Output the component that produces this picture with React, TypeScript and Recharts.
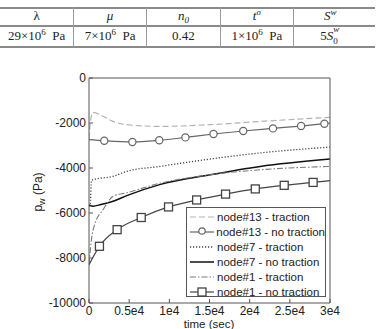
import React from 'react';
import { LineChart, Line, XAxis, YAxis } from 'recharts';

// time (sec) / p_w (Pa)
const n13TracT = [0, 150, 500, 1750, 3000, 4700, 8800, 15100, 21300, 30000];
const n13TracV = [-2700, -2000, -1530, -1700, -1930, -2075, -2150, -2075, -1930, -1750];

const n13NoT = [0, 1900, 5400, 8750, 12000, 15500, 19200, 22900, 26400, 29300, 30000];
const n13NoV = [-2740, -2790, -2845, -2770, -2640, -2490, -2355, -2240, -2135, -2030, -2000];

const n7TracT = [0, 150, 300, 500, 3000, 4700, 8800, 15100, 21300, 30000];
const n7TracV = [-5700, -5650, -4550, -4520, -4370, -4150, -3930, -3600, -3330, -3070];

const n7NoT = [0, 500, 1500, 3000, 4700, 8800, 15100, 21300, 30000];
const n7NoV = [-5640, -5700, -5620, -5480, -5230, -4740, -4300, -3930, -3600];

const n1TracT = [0, 300, 700, 1750, 3000, 4700, 8800, 15100, 21300, 30000];
const n1TracV = [-8300, -7190, -6520, -5850, -5260, -5100, -4680, -4300, -4080, -3930];

const n1NoT = [0, 1300, 3500, 6500, 9900, 13400, 17000, 20700, 24300, 27900, 30000];
const n1NoV = [-8300, -7480, -6740, -6200, -5730, -5420, -5160, -4930, -4770, -4640, -4560];

const xTicks = [0, 5000, 10000, 15000, 20000, 25000, 30000];
const xTickLabels = ['0', '0.5e4', '1e4', '1.5e4', '2e4', '2.5e4', '3e4'];
const yTicks = [-10000, -8000, -6000, -4000, -2000, 0];

const legendNames = [
  'node#13 - traction',
  'node#13 - no traction',
  'node#7 - traction',
  'node#7 - no traction',
  'node#1 - traction',
  'node#1 - no traction',
];

const zip = (t: number[], v: number[]) => t.map((x, i) => ({ t: x, v: v[i] }));

const styles = [
  { stroke: '#b3b3b3', dash: '6 3', width: 1.2, marker: '' },
  { stroke: '#666', dash: undefined, width: 1.2, marker: 'circle' },
  { stroke: '#444', dash: '1.2 1.8', width: 1.3, marker: '' },
  { stroke: '#111', dash: undefined, width: 1.5, marker: '' },
  { stroke: '#7a7a7a', dash: '6 2 1.5 2', width: 1.1, marker: '' },
  { stroke: '#444', dash: undefined, width: 1.2, marker: 'square' },
];

const makeDot = (kind: string, color: string, last: number) => (p: any) => {
  const { cx, cy, index, key } = p;
  if (index === 0 || index === last || cx == null) return <g key={key} />;
  if (kind === 'circle')
    return <circle key={key} cx={cx} cy={cy} r={3.6} fill="white" stroke={color} strokeWidth={1.2} />;
  return <rect key={key} x={cx - 4} y={cy - 4} width={8} height={8} fill="white" stroke={color} strokeWidth={1.3} />;
};

const font = '"Liberation Sans", Arial, sans-serif';
const tickStyle = { fontSize: 12, fill: '#222', fontFamily: font };

const Sample = ({ s }: { s: (typeof styles)[number] }) => (
  <svg width={26} height={14} style={{ display: 'block' }}>
    <line x1={1} x2={25} y1={7} y2={7} stroke={s.stroke} strokeWidth={s.width} strokeDasharray={s.dash} />
    {s.marker === 'circle' && <circle cx={13} cy={6} r={3.2} fill="white" stroke={s.stroke} strokeWidth={1.2} />}
    {s.marker === 'square' && <rect x={9} y={3} width={8} height={8} fill="white" stroke={s.stroke} strokeWidth={1.3} />}
  </svg>
);

const cell = (left: number, top: number, content: React.ReactNode) => (
  <div
    style={{
      position: 'absolute',
      left,
      top,
      width: 73.4,
      height: 18,
      textAlign: 'center',
      lineHeight: '18px',
      fontSize: 13,
      fontFamily: '"Liberation Serif", "Times New Roman", serif',
      color: '#222',
      whiteSpace: 'nowrap',
    }}
  >
    {content}
  </div>
);

const Table = () => {
  const hLines = [7, 25, 46];
  const vLines = [73, 146, 220, 293];
  const sup = (s: string) => <sup style={{ fontSize: 9, verticalAlign: 5, lineHeight: 0 }}>{s}</sup>;
  const sub = (s: string) => <sub style={{ fontSize: 9, verticalAlign: -3, lineHeight: 0 }}>{s}</sub>;
  return (
    <>
      {hLines.map((y) => (
        <div key={y} style={{ position: 'absolute', left: 0, top: y, width: 375, height: 1.5, background: '#8a8a8a' }} />
      ))}
      {vLines.map((x) => (
        <div key={x} style={{ position: 'absolute', left: x, top: 7, width: 1, height: 40, background: '#9a9a9a' }} />
      ))}
      {cell(0, 7, 'λ')}
      {cell(73.4, 7, <i>μ</i>)}
      {cell(146.8, 7, <i>n{sub('0')}</i>)}
      {cell(220.2, 7, <i>t{sup('σ')}</i>)}
      {cell(293.6, 7, <i>S{sup('w')}</i>)}
      {cell(0, 27, <>29×10{sup('6')}&nbsp; Pa</>)}
      {cell(73.4, 27, <>7×10{sup('6')}&nbsp; Pa</>)}
      {cell(146.8, 27, '0.42')}
      {cell(220.2, 27, <>1×10{sup('6')}&nbsp; Pa</>)}
      {cell(
        293.6,
        27,
        <>
          5<i>S</i>
          <span style={{ display: 'inline-block', position: 'relative', width: 7, height: 0 }}>
            <i style={{ position: 'absolute', left: 0, top: -16, fontSize: 9, lineHeight: '10px' }}>w</i>
            <span style={{ position: 'absolute', left: 0, top: -4, fontSize: 9, lineHeight: '10px' }}>0</span>
          </span>
        </>
      )}
    </>
  );
};

const series = [
  zip(n13TracT, n13TracV),
  zip(n13NoT, n13NoV),
  zip(n7TracT, n7TracV),
  zip(n7NoT, n7NoV),
  zip(n1TracT, n1TracV),
  zip(n1NoT, n1NoV),
];

export default function App() {
  return (
    <div style={{ position: 'absolute', left: 0, top: 0, width: 377, height: 329, background: 'white', overflow: 'hidden' }}>
      <Table />
      <div style={{ position: 'absolute', left: 0, top: 0 }}>
        <LineChart width={377} height={329} margin={{ top: 77, right: 46, left: 29, bottom: 0 }}>
          <XAxis
            dataKey="t"
            type="number"
            domain={[0, 30000]}
            allowDataOverflow
            ticks={xTicks}
            tickFormatter={(v: number) => xTickLabels[xTicks.indexOf(v)]}
            tick={tickStyle}
            tickSize={-4}
            tickMargin={7}
            height={26}
            stroke="#555"
            interval={0}
            label={{
              content: () => (
                <text x={209} y={327.5} textAnchor="middle" fontSize={11.5} fontFamily={font} fill="#222">
                  time (sec)
                </text>
              ),
            }}
          />
          <XAxis
            xAxisId="top"
            orientation="top"
            dataKey="t"
            type="number"
            domain={[0, 30000]}
            allowDataOverflow
            ticks={xTicks}
            tick={false}
            tickSize={-4}
            height={1}
            stroke="#555"
            interval={0}
          />
          <YAxis
            type="number"
            domain={[-10000, 0]}
            allowDataOverflow
            ticks={yTicks}
            tick={tickStyle}
            tickSize={-4}
            tickMargin={7}
            width={60}
            stroke="#555"
            interval={0}
            label={{
              content: () => (
                <text x={42} y={192} transform="rotate(-90 42 192)" textAnchor="middle" fontSize={12} fontFamily={font} fill="#222">
                  p<tspan dy={3} fontSize={9}>w</tspan>
                  <tspan dy={-3}> (Pa)</tspan>
                </text>
              ),
            }}
          />
          <YAxis
            yAxisId="right"
            orientation="right"
            type="number"
            domain={[-10000, 0]}
            allowDataOverflow
            ticks={yTicks}
            tick={false}
            tickSize={-4}
            width={1}
            stroke="#555"
            interval={0}
          />
          {series.map((d, i) => (
            <Line
              key={i}
              data={d}
              dataKey="v"
              type="monotone"
              stroke={styles[i].stroke}
              strokeWidth={styles[i].width}
              strokeDasharray={styles[i].dash}
              dot={styles[i].marker ? makeDot(styles[i].marker, styles[i].stroke, d.length - 1) : false}
              activeDot={false}
              isAnimationActive={false}
            />
          ))}
        </LineChart>
      </div>
      <div
        style={{
          position: 'absolute',
          left: 186,
          top: 207,
          width: 140,
          height: 90,
          border: '1px solid #555',
          background: 'white',
          paddingTop: 1,
          boxSizing: 'border-box',
        }}
      >
        {legendNames.map((n, i) => (
          <div key={n} style={{ display: 'flex', alignItems: 'center', height: 15, fontFamily: font, fontSize: 11.5, color: '#222' }}>
            <div style={{ width: 28, paddingLeft: 2 }}>
              <Sample s={styles[i]} />
            </div>
            <span style={{ whiteSpace: 'nowrap' }}>{n}</span>
          </div>
        ))}
      </div>
    </div>
  );
}
